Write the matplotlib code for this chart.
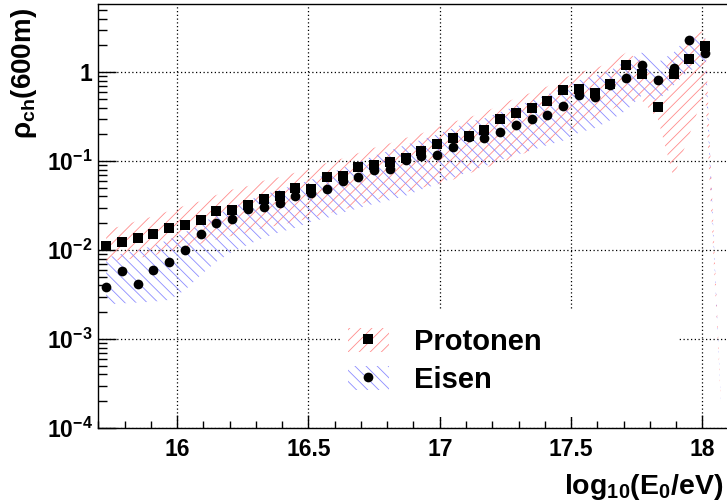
import numpy as np
import matplotlib
matplotlib.use("Agg")
import matplotlib.pyplot as plt
from matplotlib.patches import Patch, Rectangle
from matplotlib.lines import Line2D
from matplotlib.ticker import FixedLocator, FixedFormatter, MultipleLocator, LogLocator, NullFormatter, FuncFormatter
from matplotlib.legend_handler import HandlerTuple

plt.rcParams['font.family'] = ['Liberation Sans', 'DejaVu Sans']
plt.rcParams['font.weight'] = 'bold'
plt.rcParams['mathtext.fontset'] = 'custom'
plt.rcParams['mathtext.rm'] = 'Liberation Sans:bold'
plt.rcParams['mathtext.bf'] = 'Liberation Sans:bold'
plt.rcParams['mathtext.it'] = 'Liberation Sans:bold'
plt.rcParams['hatch.linewidth'] = 0.6

# log10(E0/eV) of the bins
energy = [15.73, 15.79, 15.85, 15.91, 15.97, 16.03, 16.09, 16.15, 16.21, 16.27,
          16.33, 16.39, 16.45, 16.51, 16.57, 16.63, 16.69, 16.75, 16.81, 16.87,
          16.93, 16.99, 17.05, 17.11, 17.17, 17.23, 17.29, 17.35, 17.41, 17.47,
          17.53, 17.59, 17.65, 17.71, 17.77, 17.83, 17.89, 17.95, 18.01]

# rho_ch(600m), protons (squares)
proton = [0.0112, 0.0123, 0.0137, 0.0153, 0.0175, 0.0189, 0.0218, 0.0277, 0.0285, 0.0322,
          0.0378, 0.0403, 0.0492, 0.0480, 0.0657, 0.0688, 0.0863, 0.0897, 0.0982, 0.109,
          0.131, 0.155, 0.181, 0.192, 0.226, 0.301, 0.347, 0.399, 0.473, 0.629,
          0.644, 0.580, 0.741, 1.19, 0.960, 0.406, 0.962, 1.39, 1.97]

# rho_ch(600m), iron (circles)
iron = [0.00381, 0.00576, 0.00416, 0.00602, 0.00734, 0.0100, 0.0151, 0.0201, 0.0224, 0.0288,
        0.0303, 0.0337, 0.0403, 0.0436, 0.0486, 0.0594, 0.0667, 0.0789, 0.0820, 0.103,
        0.115, 0.117, 0.144, 0.186, 0.184, 0.211, 0.253, 0.295, 0.333, 0.413,
        0.551, 0.532, 0.710, 0.865, 1.19, 0.822, 1.11, 2.32, 1.63]

# band edges (log10), last node is the thin tail past the final bin
band_x = energy + [18.07]
p_hi_log = [-1.77, -1.73, -1.67, -1.62, -1.56, -1.50, -1.45, -1.38, -1.32, -1.28,
            -1.22, -1.18, -1.13, -1.09, -1.02, -0.97, -0.91, -0.85, -0.80, -0.74,
            -0.69, -0.62, -0.56, -0.51, -0.45, -0.37, -0.29, -0.23, -0.16, -0.07,
            0.00, 0.04, 0.11, 0.22, 0.13, -0.15, 0.24, 0.40, 0.47, -3.66]
p_lo_log = [-2.13, -2.11, -2.09, -2.06, -2.02, -1.97, -1.93, -1.88, -1.84, -1.80,
            -1.75, -1.72, -1.68, -1.64, -1.59, -1.55, -1.49, -1.44, -1.39, -1.35,
            -1.30, -1.26, -1.21, -1.14, -1.08, -1.02, -0.95, -0.88, -0.79, -0.69,
            -0.60, -0.52, -0.43, -0.32, -0.32, -0.52, -1.18, -0.71, -0.20, -3.70]
fe_hi_log = [-2.09, -2.04, -2.00, -1.95, -1.88, -1.80, -1.71, -1.60, -1.52, -1.44,
             -1.38, -1.32, -1.27, -1.21, -1.15, -1.08, -1.01, -0.94, -0.88, -0.82,
             -0.76, -0.70, -0.63, -0.56, -0.52, -0.45, -0.38, -0.32, -0.25, -0.18,
             -0.09, -0.04, 0.02, 0.13, 0.22, 0.11, 0.22, 0.41, 0.38, -3.66]
fe_lo_log = [-2.61, -2.60, -2.59, -2.58, -2.56, -2.45, -2.28, -2.13, -2.02, -1.94,
             -1.86, -1.80, -1.75, -1.68, -1.64, -1.58, -1.53, -1.48, -1.44, -1.39,
             -1.32, -1.26, -1.19, -1.12, -1.06, -0.99, -0.93, -0.88, -0.82, -0.77,
             -0.68, -0.63, -0.54, -0.43, -0.26, -0.32, -0.15, 0.02, 0.07, -3.70]

ytick_vals = [1e-4, 1e-3, 1e-2, 1e-1, 1]
ytick_text = [r'$\mathbf{10^{-4}}$', r'$\mathbf{10^{-3}}$', r'$\mathbf{10^{-2}}$',
              r'$\mathbf{10^{-1}}$', '1']

W, H = 727, 501
fig = plt.figure(figsize=(W / 100, H / 100), dpi=100)
x0, x1, y_top, y_bot = 98.3, 732, 4, 428
ax = fig.add_axes([x0 / W, 1 - y_bot / H, (x1 - x0) / W, (y_bot - y_top) / H])

red = '#ff8c8c'
blue = '#8c8cff'
ax.fill_between(band_x, 10 ** np.array(p_lo_log), 10 ** np.array(p_hi_log),
                facecolor='none', edgecolor=red, hatch='///', linewidth=0, zorder=2)
ax.fill_between(band_x, 10 ** np.array(fe_lo_log), 10 ** np.array(fe_hi_log),
                facecolor='none', edgecolor=blue, hatch='\\\\\\', linewidth=0, zorder=2)

ax.plot(energy, proton, 's', color='black', ms=6.5, mew=0, zorder=4)
ax.plot(energy, iron, 'o', color='black', ms=7, mew=0, zorder=4)

ax.set_yscale('log')
ax.set_xlim(15.7, 16 + (x1 - 177) / 262.7)
ax.set_ylim(1e-4, 5.83)

ax.xaxis.set_major_locator(MultipleLocator(0.5))
ax.xaxis.set_minor_locator(MultipleLocator(0.1))
ax.xaxis.set_major_formatter(FuncFormatter(lambda v, p: '%g' % v))
ax.yaxis.set_major_locator(FixedLocator(ytick_vals))
ax.yaxis.set_major_formatter(FixedFormatter(ytick_text))
ax.yaxis.set_minor_locator(LogLocator(base=10, subs=np.arange(2, 10)))
ax.yaxis.set_minor_formatter(NullFormatter())

ax.tick_params(axis='both', which='both', direction='in', top=False, right=False, width=1)
ax.tick_params(axis='y', which='major', length=13, labelsize=16.5, pad=4)
ax.tick_params(axis='y', which='minor', length=6.5)
ax.tick_params(axis='x', which='major', length=9.4, labelsize=16.5, pad=7)
ax.tick_params(axis='x', which='minor', length=4.7)
ax.spines['right'].set_visible(False)
for s in ['left', 'bottom', 'top']:
    ax.spines[s].set_linewidth(1.0)

ax.set_axisbelow(True)
ax.grid(True, which='major', color='black', linestyle=(0, (1, 2)), linewidth=0.9)

# white legend box hiding the grid
ax.add_patch(Rectangle((340 / W, 1 - 417 / H), (678 - 340) / W, (417 - 310) / H,
                       transform=fig.transFigure, facecolor='white', edgecolor='none', zorder=1))

h_p = (Patch(facecolor='none', edgecolor=red, hatch='///', linewidth=0),
       Line2D([], [], marker='s', color='black', ls='none', ms=6.5, mew=0))
h_fe = (Patch(facecolor='none', edgecolor=blue, hatch='\\\\\\', linewidth=0),
        Line2D([], [], marker='o', color='black', ls='none', ms=7, mew=0))
ax.legend([h_p, h_fe], ['Protonen', 'Eisen'], handler_map={tuple: HandlerTuple(ndivide=1, pad=0)},
          loc='upper left', bbox_to_anchor=(348 / W, 1 - 328 / H), bbox_transform=fig.transFigure,
          frameon=False, fontsize=21, handlelength=1.4, handleheight=0.86, handletextpad=0.85,
          labelspacing=0.35, borderpad=0, borderaxespad=0)

fig.text(24 / W, 1 - 8 / H, r'ρ$_{\mathbf{ch}}$(600m)', rotation=90, ha='center', va='top', fontsize=20)
fig.text(723 / W, 1 - 494 / H, r'log$_{\mathbf{10}}$(E$_{\mathbf{0}}$/eV)', ha='right', va='baseline', fontsize=20.5)

fig.savefig('out.png', dpi=100)
